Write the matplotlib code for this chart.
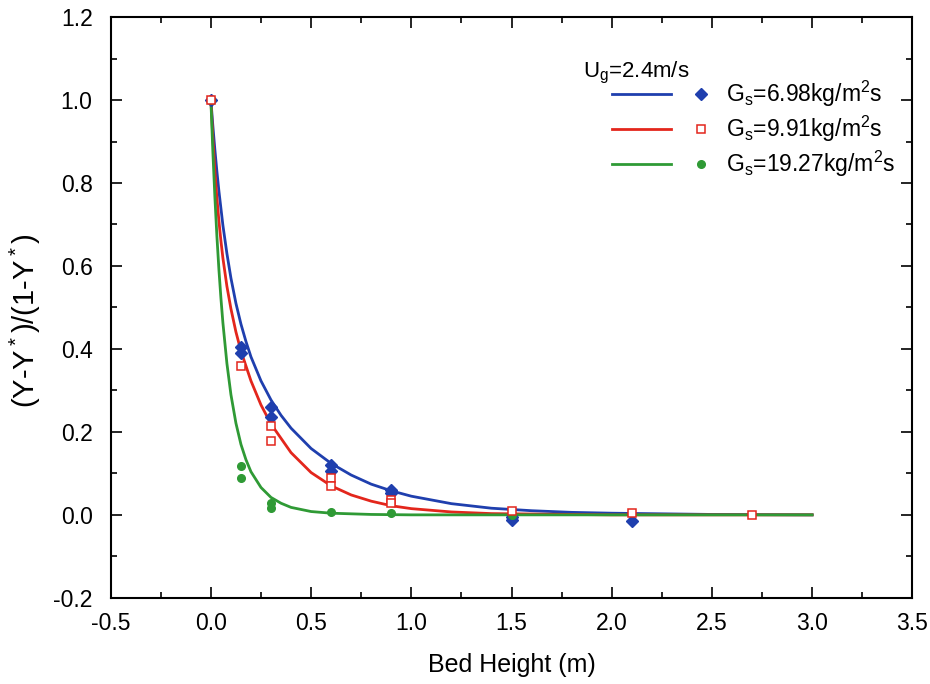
import numpy as np
import matplotlib.pyplot as plt
from matplotlib.legend_handler import HandlerTuple
from matplotlib.ticker import MultipleLocator

plt.rcParams['font.family'] = ['Liberation Sans', 'DejaVu Sans']
plt.rcParams['mathtext.default'] = 'regular'

# measured points (bed height in m)
x_blue = [0.0, 0.15, 0.15, 0.3, 0.3, 0.6, 0.6, 0.9, 0.9, 1.5, 1.5, 2.1]
y_blue = [1.0, 0.405, 0.39, 0.26, 0.236, 0.12, 0.106, 0.06, 0.053, -0.006, -0.013, -0.014]

x_red = [0.0, 0.15, 0.3, 0.3, 0.6, 0.6, 0.9, 0.9, 1.5, 2.1, 2.7]
y_red = [1.0, 0.36, 0.214, 0.178, 0.088, 0.07, 0.037, 0.028, 0.01, 0.004, 0.0]

x_green = [0.0, 0.15, 0.15, 0.3, 0.3, 0.6, 0.9, 1.5]
y_green = [1.0, 0.118, 0.09, 0.029, 0.016, 0.007, 0.004, 0.0]

# fitted curves
cx_blue = [0, 0.01, 0.02, 0.03, 0.04, 0.06, 0.08, 0.10, 0.125, 0.15, 0.175, 0.2, 0.25,
           0.3, 0.35, 0.4, 0.5, 0.6, 0.7, 0.8, 0.9, 1.0, 1.2, 1.4, 1.6, 1.8, 2.0, 2.5, 3.0]
cy_blue = [1.0, 0.937, 0.880, 0.828, 0.781, 0.698, 0.630, 0.571, 0.510, 0.460, 0.418, 0.381, 0.323,
           0.277, 0.240, 0.209, 0.160, 0.124, 0.096, 0.074, 0.058, 0.045, 0.027, 0.016, 0.010,
           0.006, 0.004, 0.001, 0.0]

cx_red = [0, 0.01, 0.02, 0.03, 0.04, 0.05, 0.06, 0.08, 0.10, 0.125, 0.15, 0.2, 0.25, 0.3,
          0.4, 0.5, 0.6, 0.7, 0.8, 0.9, 1.0, 1.2, 1.4, 1.6, 2.0, 3.0]
cy_red = [1.0, 0.907, 0.829, 0.764, 0.709, 0.661, 0.619, 0.551, 0.497, 0.441, 0.395, 0.323, 0.265,
          0.219, 0.150, 0.102, 0.070, 0.048, 0.033, 0.022, 0.015, 0.007, 0.003, 0.002, 0.0, 0.0]

cx_green = [0, 0.01, 0.02, 0.03, 0.04, 0.05, 0.06, 0.08, 0.10, 0.125, 0.15, 0.175, 0.2,
            0.25, 0.3, 0.35, 0.4, 0.5, 0.6, 0.8, 1.0, 3.0]
cy_green = [1.0, 0.874, 0.766, 0.672, 0.592, 0.523, 0.463, 0.365, 0.290, 0.221, 0.170, 0.133,
            0.104, 0.066, 0.042, 0.028, 0.018, 0.008, 0.004, 0.001, 0.0, 0.0]

labels = ['G$_s$=6.98kg/m$^2$s', 'G$_s$=9.91kg/m$^2$s', 'G$_s$=19.27kg/m$^2$s']

blue = '#1f3fae'
red = '#e3261c'
green = '#2f9a35'

fig = plt.figure(figsize=(9.3, 6.84), dpi=100)
ax = fig.add_axes([0.119, 0.126, 0.862, 0.849])

lb, = ax.plot(cx_blue, cy_blue, color=blue, lw=2.0)
lr, = ax.plot(cx_red, cy_red, color=red, lw=2.0)
lg, = ax.plot(cx_green, cy_green, color=green, lw=2.0)

mb, = ax.plot(x_blue, y_blue, 'D', color=blue, ms=6, ls='none')
mg, = ax.plot(x_green, y_green, 'o', color=green, ms=5.5, ls='none')
mr, = ax.plot(x_red, y_red, 's', mfc='white', mec=red, mew=1.1, ms=5.5, ls='none')

ax.set_xlim(-0.5, 3.5)
ax.set_ylim(-0.2, 1.2)
ax.xaxis.set_major_locator(MultipleLocator(0.5))
ax.xaxis.set_minor_locator(MultipleLocator(0.25))
ax.yaxis.set_major_locator(MultipleLocator(0.2))
ax.yaxis.set_minor_locator(MultipleLocator(0.1))
ax.tick_params(which='both', direction='in', top=True, right=True, width=1.2)
ax.tick_params(which='major', length=8)
ax.tick_params(which='minor', length=4.5)
ax.tick_params(axis='x', labelsize=16.5, pad=10)
ax.tick_params(axis='y', labelsize=16.5, pad=13)
ax.xaxis.set_major_formatter(plt.FuncFormatter(lambda v, p: f'{v:.1f}'))
ax.yaxis.set_major_formatter(plt.FuncFormatter(lambda v, p: f'{v:.1f}'))
for s in ax.spines.values():
    s.set_linewidth(1.5)

ax.set_xlabel('Bed Height (m)', fontsize=18, labelpad=13)
ax.set_ylabel('(Y-Y$^*$)/(1-Y$^*$)', fontsize=21)
ax.yaxis.set_label_coords(-0.084, 0.478)

ax.text(0.589, 0.903, 'U$_g$=2.4m/s', transform=ax.transAxes, fontsize=16, va='center')
ax.legend([(lb, mb), (lr, mr), (lg, mg)], labels,
          handler_map={tuple: HandlerTuple(ndivide=None, pad=0)},
          loc='upper left', bbox_to_anchor=(0.625, 0.893), frameon=False,
          fontsize=16.5, handlelength=5.2, handletextpad=-0.2, labelspacing=0.2,
          borderaxespad=0, borderpad=0)

fig.savefig('out.png', dpi=100)
